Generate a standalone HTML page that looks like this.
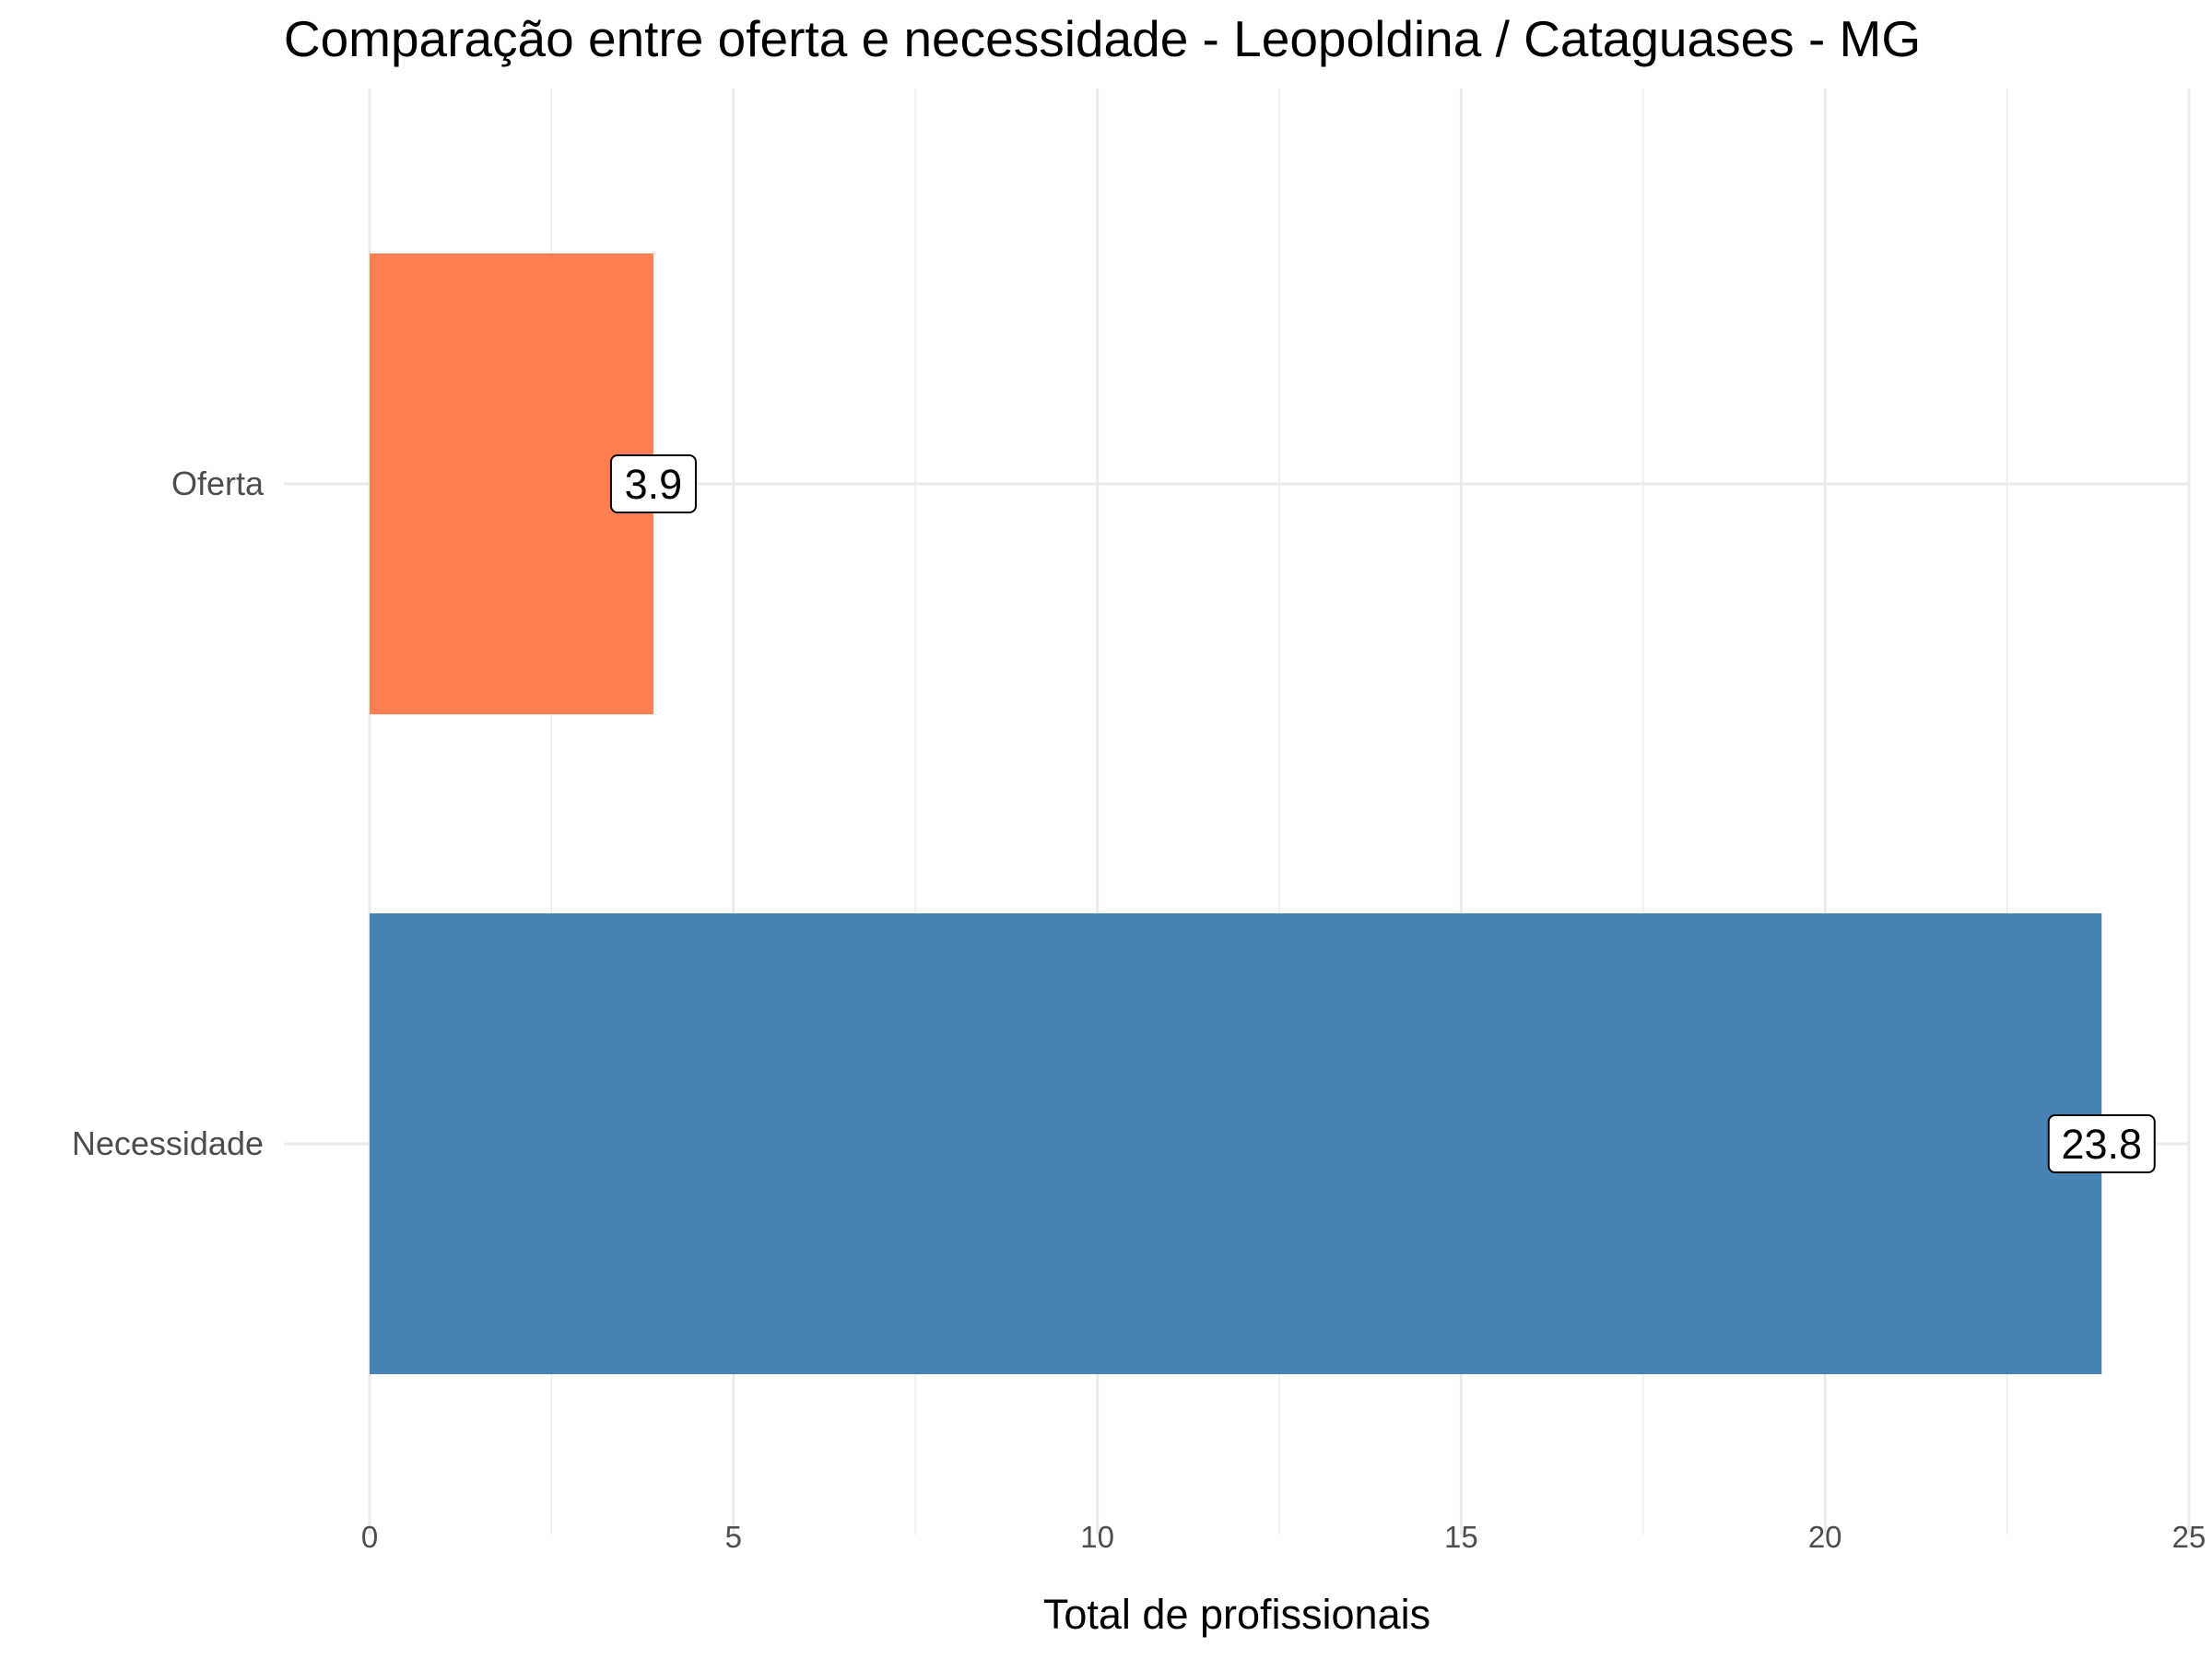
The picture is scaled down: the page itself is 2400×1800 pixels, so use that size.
<!DOCTYPE html>
<html><head><meta charset="utf-8"><style>html,body{margin:0;padding:0;background:#fff}svg{display:block}</style></head>
<body>
<svg id="chart" width="2400" height="1800" xmlns="http://www.w3.org/2000/svg" font-family="Liberation Sans, Arial, sans-serif">
<text x="1196" y="61" text-anchor="middle" font-size="55" fill="#000">Comparação entre oferta e necessidade - Leopoldina / Cataguases - MG</text>
<g id="grid"></g><g id="bars"></g><g id="labels"></g><g id="axes"></g>
<text x="1342" y="1767" text-anchor="middle" font-size="45" fill="#000">Total de profissionais</text>
</svg>
<script>
const categories = ["Oferta", "Necessidade"];
const values = [3.9, 23.8];
const valueLabels = ["3.9", "23.8"];
const colors = ["#FF7F50", "#4682B4"];
const xTicks = [0, 5, 10, 15, 20, 25];
const xTickLabels = ["0", "5", "10", "15", "20", "25"];

const NS = "http://www.w3.org/2000/svg";
const X0 = 401, X1 = 2375, PT = 96, PB = 1665, PL = 308;
function xs(v){ return X0 + (v - 0) / 25 * (X1 - X0); }
const catCenters = [525, 1241];
function ys(i){ return catCenters[i]; }
const barH = 500;
function mk(tag, attrs, parent){ const e = document.createElementNS(NS, tag); for (const k in attrs) e.setAttribute(k, attrs[k]); parent.appendChild(e); return e; }
const grid = document.getElementById('grid'), bars = document.getElementById('bars'), labels = document.getElementById('labels'), axes = document.getElementById('axes');
for (let i = 0; i < xTicks.length - 1; i++) {
  const m = (xTicks[i] + xTicks[i+1]) / 2;
  const l = mk('line', {x1: xs(m), x2: xs(m), y1: PT, y2: PB, stroke: '#ebebeb', 'stroke-width': 1.5}, grid);
  
  
}
xTicks.forEach((t, i) => {
  const l = mk('line', {x1: xs(t), x2: xs(t), y1: PT, y2: PB, stroke: '#ebebeb', 'stroke-width': 3}, grid);
  
  
  const tx = mk('text', {x: xs(t), y: 1679, 'text-anchor': 'middle', 'font-size': 33, fill: '#4d4d4d'}, axes);
  tx.textContent = xTickLabels[i];
  
  
});
categories.forEach((c, i) => {
  const l = mk('line', {x1: PL, x2: X1, y1: ys(i), y2: ys(i), stroke: '#ebebeb', 'stroke-width': 3}, grid);
  
  
  const tx = mk('text', {x: 286, y: ys(i) + 12, 'text-anchor': 'end', 'font-size': 36, fill: '#4d4d4d'}, axes);
  tx.textContent = c;
  
  
  const r = mk('rect', {x: xs(0), y: ys(i) - barH/2, width: xs(values[i]) - xs(0), height: barH, fill: colors[i]}, bars);
  
  
  const g = mk('g', {}, labels);
  
  
  const w = valueLabels[i].length * 23 + 23;
  mk('rect', {x: xs(values[i]) - w/2, y: ys(i) - 31, width: w, height: 62, rx: 7, fill: '#fff', stroke: '#000', 'stroke-width': 2}, g);
  const t = mk('text', {x: xs(values[i]), y: ys(i) + 16, 'text-anchor': 'middle', 'font-size': 45, fill: '#000'}, g);
  t.textContent = valueLabels[i];
});
</script>
</body></html>
